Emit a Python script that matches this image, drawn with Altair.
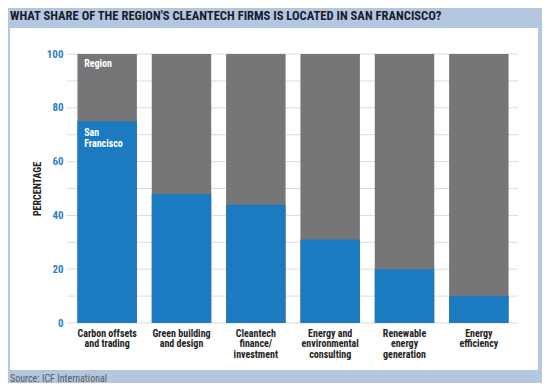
import altair as alt
import pandas as pd

categories = [
    "Carbon offsets|and trading",
    "Green building|and design",
    "Cleantech|finance/|investment",
    "Energy and|environmental|consulting",
    "Renewable|energy|generation",
    "Energy|efficiency",
]
sf_share = [75, 48, 44, 31, 20, 10]
region_share = [100, 100, 100, 100, 100, 100]
y_ticks = [0, 20, 40, 60, 80, 100]
grid_values = [0, 10, 20, 30, 40, 50, 60, 70, 80, 90, 100]
title_text = "WHAT SHARE OF THE REGION'S CLEANTECH FIRMS IS LOCATED IN SAN FRANCISCO?"
source_text = "Source: ICF International"
region_label = "Region"
sf_label = "San\nFrancisco"
y_title = "PERCENTAGE"

FONT = "Roboto Condensed, DejaVu Sans Condensed, sans-serif"
BLUE = "#1c7bc0"
GRAY = "#767679"

bars_df = pd.DataFrame({"cat": categories, "sf": sf_share, "region": region_share})
grid_df = pd.DataFrame({"value": grid_values})
ann_region = pd.DataFrame({"cat": [categories[0]], "value": [region_share[0]], "label": [region_label]})
ann_sf = pd.DataFrame({"cat": [categories[0]], "value": [sf_share[0]], "label": [sf_label]})
one = pd.DataFrame({"k": [0]})

y_scale = alt.Scale(domain=[0, 100], nice=False)
x_scale = alt.Scale(paddingInner=0.2, paddingOuter=0.1)

y_axis = alt.Axis(
    values=y_ticks, grid=False, domain=False, ticks=False, zindex=1,
    title=y_title, titleFont=FONT, titleFontSize=10, titleFontWeight="bold",
    titleColor="#222222", titlePadding=4,
    labelFont=FONT, labelFontSize=11, labelFontWeight="bold", labelColor="#2f80c2",
    labelPadding=7,
)
x_axis = alt.Axis(
    title=None, domain=False, ticks=False, zindex=1, labelAngle=0,
    labelExpr="split(datum.label, '|')",
    labelFont=FONT, labelFontSize=10, labelFontWeight="bold", labelColor="#222222",
    labelPadding=5, labelLineHeight=10.5, labelBaseline="top",
)

X = alt.X("cat:N", sort=categories, scale=x_scale, axis=x_axis)

panel = alt.Chart(one).mark_rect(color="white").encode(
    x=alt.value(-60), x2=alt.value(468), y=alt.value(-26), y2=alt.value(316)
)
grid = alt.Chart(grid_df).mark_rule(color="#dcdcdc", strokeWidth=1).encode(
    y=alt.Y("value:Q", scale=y_scale, axis=y_axis), x=alt.value(-3), x2=alt.value(448)
)
region_bars = alt.Chart(bars_df).mark_bar(color=GRAY).encode(
    x=X, y=alt.Y("region:Q", scale=y_scale, axis=y_axis)
)
sf_bars = alt.Chart(bars_df).mark_bar(color=BLUE).encode(
    x=X, y=alt.Y("sf:Q", scale=y_scale, axis=y_axis)
)
region_text = alt.Chart(ann_region).mark_text(
    align="left", baseline="top", dx=-23, dy=5, color="white",
    font=FONT, fontSize=10, fontWeight="bold"
).encode(x=X, y=alt.Y("value:Q", scale=y_scale, axis=y_axis), text="label:N")
sf_text = alt.Chart(ann_sf).mark_text(
    align="left", baseline="top", dx=-23, dy=7, color="white",
    font=FONT, fontSize=10, fontWeight="bold", lineBreak="\n", lineHeight=11
).encode(x=X, y=alt.Y("value:Q", scale=y_scale, axis=y_axis), text="label:N")
title = alt.Chart(one).mark_text(
    text=title_text, align="left", baseline="middle", color="#1b1c2a",
    font=FONT, fontSize=12.6, fontWeight="bold"
).encode(x=alt.value(-60), y=alt.value(-38))
source = alt.Chart(one).mark_text(
    text=source_text, align="left", baseline="middle", color="#5a5a5a",
    font=FONT, fontSize=10
).encode(x=alt.value(-60), y=alt.value(325))

chart = alt.layer(
    panel, grid, region_bars, sf_bars, region_text, sf_text, title, source
).properties(
    width=446, height=269,
    padding={"left": 62, "top": 46, "right": 26, "bottom": 60},
    autosize=alt.AutoSizeParams(type="none"),
    background="#b3c7e1",
).configure_view(stroke=None)

chart.save("out.html", embed_options={"renderer": "svg", "actions": False})
